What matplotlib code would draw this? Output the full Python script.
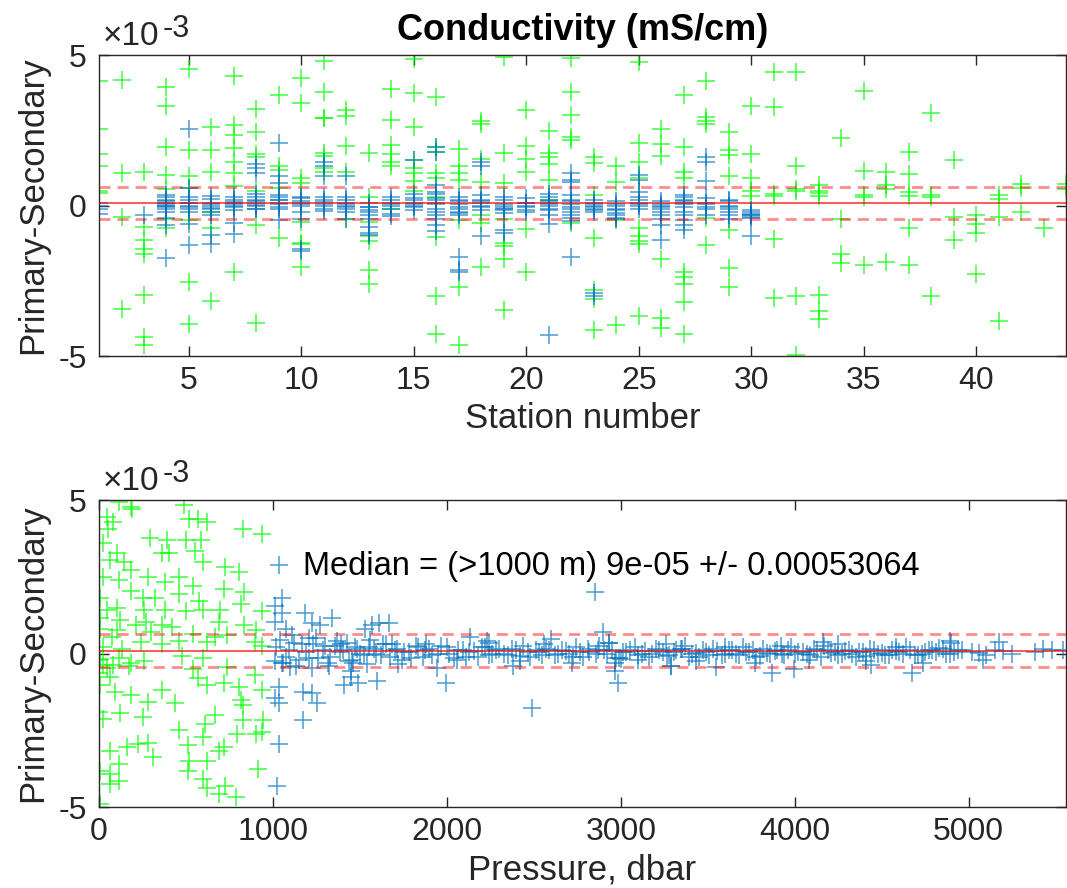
import matplotlib
matplotlib.use("Agg")
import matplotlib.pyplot as plt

plt.rcParams["font.family"] = ["Liberation Sans", "DejaVu Sans"]
plt.rcParams["axes.unicode_minus"] = False

# all differences are in units of 1e-3 mS/cm
median = 0.09
spread = 0.53064

# --- top panel: station number ---
top_green_station = (
	[1]*6 + [2]*4 + [3]*8 + [4]*7 + [5]*7 + [6]*6 + [7]*8 + [8]*7 + [9]*5 + [10]*8
	+ [11]*8 + [12]*5 + [13]*7 + [14]*7 + [15]*8 + [16]*9 + [17]*7 + [18]*7 + [19]*8 + [20]*6
	+ [21]*6 + [22]*6 + [23]*7 + [24]*4 + [25]*9 + [26]*6 + [27]*9 + [28]*6 + [29]*7 + [30]*5
	+ [31]*6 + [32]*6 + [33]*7 + [34]*4 + [35]*5 + [36]*4 + [37]*6 + [38]*4 + [39]*3 + [40]*4
	+ [41]*4 + [42]*3 + [43]*1 + [44]*2
)
top_green_diff = [
	4.13, 2.53, 1.71, 1.3, 0.5, 0.43,
	4.18, 1.08, -0.38, -3.42,
	1.13, -0.7, -1.13, -1.45, -1.6, -2.96, -4.35, -4.62,
	3.93, 3.3, 1.96, 1.0, 0.54, -0.43, -0.75,
	4.53, 1.85, 0.99, 0.6, -0.48, -2.53, -3.92,
	2.6, 1.85, 1.1, -0.2, -0.75, -3.17,
	4.29, 2.67, 2.34, 1.9, 1.44, 1.08, 0.64, -2.2,
	3.22, 2.43, 1.71, 1.63, 0.5, -0.65, -3.89,
	3.67, 1.3, 1.17, 0.6, -1.08,
	4.24, 3.41, 0.91, 0.75, -0.54, -1.24, -1.28, -2.04,
	4.81, 3.77, 2.92, 2.9, 1.74, 1.65, 1.24, 1.13,
	3.16, 2.97, 1.98, 1.13, -0.43,
	1.76, 0.3, -0.54, -1.02, -1.18, -2.15, -2.6,
	3.88, 2.84, 2.0, 1.71, 1.46, 1.3, -0.1,
	4.87, 3.75, 2.62, 1.52, 1.24, 1.08, 0.81, 0.5,
	3.6, 1.96, 1.79, 1.08, 0.91, 0.3, -1.05, -3.02, -4.25,
	1.87, 1.3, 1.08, 0.86, -0.48, -2.69, -4.62,
	2.81, 2.7, 1.54, 0.77, -0.32, -0.59, -2.04,
	4.95, 1.76, 0.75, -0.43, -1.24, -1.35, -1.77, -3.46,
	3.16, 1.98, 1.54, 1.1, -0.77, -2.2,
	2.47, 1.74, 1.63, 1.38, 0.86, 0.2,
	4.9, 3.77, 3.0, 2.29, 2.18, -0.59,
	1.63, 1.41, 0.35, -1.08, -2.82, -3.12, -4.14,
	1.3, 0.77, -0.48, -3.98,
	4.76, 2.07, 1.46, 0.91, -0.75, -1.02, -1.18, -1.29, -3.66,
	2.56, 2.04, 1.65, -1.77, -3.74, -4.06,
	3.68, 1.96, 1.1, 0.91, -2.2, -2.36, -2.6, -3.2, -4.28,
	4.15, 2.95, 2.81, 2.7, -0.41, -1.31,
	2.45, 1.85, 1.68, 0.99, -0.8, -2.06, -2.71,
	3.32, 1.71, 0.91, 0.47, 0.32,
	4.45, 3.26, 0.4, 0.32, -1.1, -3.06,
	4.43, 1.3, 0.55, 0.48, -2.99, -4.95,
	0.69, 0.42, 0.5, 0.32, -2.96, -3.49, -3.76,
	2.23, -0.43, -1.61, -1.91,
	3.8, 1.16, 0.36, 0.27, -1.99,
	1.13, 0.69, 0.55, -1.88,
	1.77, 1.05, 0.44, 0.32, -0.75, -1.96,
	3.08, 0.36, 0.27, -3.02,
	1.52, -0.38, -1.16,
	-0.32, -0.62, -0.91, -2.28,
	0.36, 0.22, -0.38, -3.82,
	0.72, 0.59, -0.22,
	-0.73,
	0.72, 0.55,
]

top_blue_station = (
	[1]*4 + [3]*1 + [4]*10 + [5]*8 + [6]*7 + [7]*6 + [8]*8 + [9]*8 + [10]*6
	+ [11]*6 + [12]*6 + [13]*6 + [14]*4 + [15]*5 + [16]*11 + [17]*8 + [18]*6 + [19]*6 + [20]*3
	+ [21]*8 + [22]*10 + [23]*6 + [24]*5 + [25]*5 + [26]*6 + [27]*8 + [28]*5 + [29]*4 + [30]*4
)
top_blue_diff = [
	0.1, 0.0, -0.1, -0.27,
	-0.3,
	0.3, 0.2, 0.1, 0.05, 0.0, -0.05, -0.1, -0.4, -0.65, -1.74,
	2.56, 0.6, 0.2, 0.1, 0.0, -0.1, -0.6, -1.31,
	0.32, 0.1, 0.0, -0.1, -0.2, -0.97, -1.29,
	0.2, 0.1, 0.05, -0.05, -0.59, -0.95,
	1.38, 1.24, 1.08, 0.3, 0.2, 0.1, 0.0, -0.1,
	2.09, 0.97, 0.75, 0.3, 0.2, 0.1, -0.1, -0.48,
	0.3, 0.15, 0.05, -0.43, -1.45, -1.5,
	1.46, 1.3, 0.97, 0.2, 0.05, -0.19,
	0.97, 0.3, 0.1, 0.0, -0.05, -0.43,
	-0.05, -0.2, -0.43, -0.7, -0.92, -0.97,
	0.2, 0.1, 0.0, -0.27,
	1.5, 0.4, 0.2, 0.05, 0.0,
	1.96, 1.79, 0.69, 0.4, 0.2, 0.1, -0.1, -0.3, -0.43, -0.65, -0.86,
	0.3, 0.15, -0.05, -0.2, -0.32, -1.7, -2.15, -2.2,
	1.46, 1.3, 0.2, 0.1, -0.05, -1.02,
	0.3, 0.0, -0.1, -0.15, -0.8, -0.92,
	0.1, 0.0, -0.15,
	0.3, 0.15, 0.1, 0.0, -0.1, -0.3, -0.62, -4.3,
	1.08, 0.86, 0.77, 0.2, 0.05, -0.05, -0.2, -0.3, -0.5, -1.7,
	0.1, 0.0, -0.1, -0.2, -2.9, -3.0,
	0.05, -0.1, -0.25, -0.3, -0.43,
	1.02, 0.86, 0.27, 0.1, 0.0,
	0.05, -0.05, -0.2, -0.43, -0.65, -1.13,
	0.27, 0.15, 0.05, -0.05, -0.3, -0.48, -0.65, -0.8,
	1.63, 1.46, 0.8, 0.1, -0.05,
	0.2, -0.05, -0.1, -0.32,
	-0.27, -0.32, -0.38, -1.02,
]

# deep bottles that pile up close to zero, four per station (4..30)
top_core_station = [s for s in range(4, 31) for _ in range(4)]
top_core_diff = [
	0.35, 0.15, -0.03, -0.2,
	0.3, 0.08, -0.05, -0.22,
	0.22, 0.05, -0.08, -0.3,
	0.28, 0.12, 0.0, -0.15,
	0.4, 0.15, 0.02, -0.12,
	0.35, 0.18, 0.06, -0.05,
	0.25, 0.1, -0.02, -0.2,
	0.3, 0.12, 0.0, -0.1,
	0.2, 0.05, -0.1, -0.2,
	0.1, -0.05, -0.15, -0.3,
	0.3, 0.05, -0.1, -0.35,
	0.25, 0.1, -0.05, -0.15,
	0.45, 0.25, 0.05, -0.2,
	0.2, 0.05, -0.1, -0.25,
	0.35, 0.15, 0.0, -0.15,
	0.2, 0.05, -0.08, -0.25,
	0.25, 0.08, -0.05, -0.2,
	0.4, 0.2, 0.05, -0.15,
	0.35, 0.15, -0.1, -0.4,
	0.2, 0.05, -0.05, -0.15,
	0.15, 0.0, -0.15, -0.4,
	0.45, 0.2, 0.05, -0.1,
	0.15, 0.0, -0.1, -0.3,
	0.35, 0.2, 0.1, -0.2,
	0.25, 0.05, -0.1, -0.3,
	0.15, 0.0, -0.2, -0.45,
	-0.15, -0.22, -0.3, -0.42,
]

# --- bottom panel: pressure ---
bot_green_pres = [
	0, 113, 182, 190, 44, 83, 53, 24, 489, 519, 568, 618, 826, 935, 291, 390, 499, 588,
	103, 143, 360, 400, 550, 63, 182, 24, 113, 598, 727, 806, 281, 459, 717, 539, 380,
	4, 182, 251, 321, 459, 576, 836, 816, 44, 103, 261, 380, 499, 598, 697, 935,
	4, 123, 271, 212, 360, 420, 687, 836, 905, 4, 103, 301, 539, 667, 737, 73,
	24, 133, 241, 360, 459, 618, 895, 935, 4, 44, 113, 172, 261, 479, 598, 737, 539, 895,
	0, 24, 83, 182, 0, 63, 4, 93, 182, 281, 360, 439, 0, 24, 123, 251,
	568, 618, 717, 806, 816, 826, 935, 667, 608, 459, 598, 796, 826, 935, 905, 944,
	63, 162, 222, 281, 311, 509, 519, 618, 687, 717, 4, 63, 113, 113, 63,
	509, 598, 618, 727, 687, 786, 915, 4,
]
bot_green_diff = [
	5.0, 4.94, 4.78, 4.7, 4.44, 4.27, 4.05, 3.6, 4.83, 4.39, 4.39, 4.27, 4.07, 3.88, 3.77, 3.69, 3.69, 3.69,
	3.27, 2.99, 3.27, 3.27, 3.33, 3.05, 2.71, 2.49, 2.38, 2.99, 2.82, 2.66, 2.49, 2.49, 2.1, 2.21, 2.32,
	1.82, 2.04, 1.82, 1.82, 1.93, 1.71, 1.99, 1.6, 1.43, 1.48, 1.43, 1.43, 1.37, 1.43, 1.43, 1.37,
	1.15, 1.09, 1.04, 0.93, 0.93, 0.87, 1.04, 0.93, 0.76, 0.81, 0.76, 0.7, 0.65, 0.54, 0.59, 0.54,
	0.2, 0.15, 0.37, 0.31, 0.42, 0.37, 0.37, 0.26, -0.19, -0.47, -0.13, -0.41, -0.25, -0.08, -0.13, -0.44, -0.52, -0.69,
	-0.2, -0.36, -0.36, -0.31, -0.64, -0.75, -1.02, -1.24, -1.35, -1.57, -1.19, -1.62, -1.9, -2.12, -1.95, -2.06,
	-0.8, -1.02, -0.97, -1.08, -1.51, -1.68, -1.19, -2.01, -2.28, -2.5, -2.72, -2.61, -2.17, -2.56, -2.61, -2.17,
	-3.16, -3.05, -2.94, -2.92, -3.38, -2.99, -3.49, -3.49, -3.16, -3.05, -3.84, -3.93, -3.6, -4.15, -4.26,
	-3.82, -4.09, -4.37, -4.31, -4.58, -4.67, -3.76, -4.91,
]

bot_blue_pres = [
	1034, 1053, 1014, 1053, 1182, 1222, 1271, 1341, 1014, 1073, 1529, 1568, 1608, 1667, 2133, 2232, 1687,
	1014, 1053, 1033, 1014, 1033, 1172, 1222, 1251, 1172, 1033, 1024, 1410, 1450, 1489, 1598, 1994, 2489,
	1222, 1450, 2380, 1945, 2850, 2899, 2876, 2968, 2968, 3000, 3291, 3550, 3867, 3994, 4675, 4893,
	5176, 4161, 2600, 3354, 4438, 2985, 3291,
	1020, 1060, 1090, 1120, 1150, 1190, 1230, 1260, 1300, 1330, 1370, 1400, 1440, 1470, 1500, 1540,
	1580, 1620, 1650, 1700, 1740, 1780, 1820, 1860, 1900, 1950, 2000, 2040, 2090, 2130, 2180, 2220,
	2260, 2300, 2350, 2400, 2440, 2480, 2530, 2570, 2620, 2660, 2700, 2740, 2780, 2820, 2870, 2920,
	2950, 2990, 3030, 3080, 3120, 3160, 3200, 3240, 3280, 3320, 3370, 3410, 3450, 3490, 3530, 3580,
	3620, 3660, 3700, 3740, 3780, 3820, 3860, 3900, 3940, 3980, 4020, 4070, 4110, 4150, 4190, 4230,
	4270, 4310, 4350, 4390, 4430, 4480, 4520, 4560, 4600, 4640, 4690, 4730, 4770, 4810, 4850, 4890,
	4940, 5020, 5100, 5150, 5250, 5430, 5540,
	1100, 1210, 1320, 1390, 1460, 1560, 1720, 1880, 2060, 2240, 2420, 2560, 2720, 2930, 3100, 3260,
	3430, 3600, 3770, 3920, 4080, 4250, 4410, 4580, 4740, 4900, 5080,
	1040, 1075, 1110, 1135, 1165, 1205, 1245, 1285, 1315, 1355,
	1385, 1425, 1455, 1485, 1525, 1555, 1590, 1635, 1675, 1715,
	1755, 1795, 1835, 1875, 1915, 1965, 2015, 2065, 2110, 2155,
	2200, 2245, 2285, 2330, 2375, 2420, 2465, 2510, 2545, 2590,
	2640, 2685, 2725, 2765, 2810, 2855, 2905, 2935, 2975, 3010,
	3055, 3100, 3140, 3180, 3220, 3265, 3305, 3345, 3390, 3430,
	3470, 3510, 3555, 3600, 3640, 3680, 3720, 3760, 3800, 3840,
	3885, 3925, 3960, 4000, 4045, 4090, 4130, 4170, 4210, 4250,
	4290, 4330, 4370, 4410, 4455, 4500, 4540, 4580, 4620, 4660,
	4710, 4750, 4790, 4830, 4870, 4915, 4960, 5060, 5200, 5380,
	5480,
]
bot_blue_diff = [
	2.88, 1.82, 1.54, 1.32, 1.32, 0.98, 0.93, 1.15, 1.04, 0.81, 0.81, 0.93, 0.98, 0.98, 0.54, 0.42, 0.31,
	-0.25, -0.31, -1.08, -1.46, -1.62, -1.24, -1.29, -1.62, -2.17, -2.94, -4.31, -1.02, -0.75, -0.97, -0.91, -0.97, -1.79,
	-0.47, -0.58, -0.42, -0.47, 2.02, 0.7, 0.26, -0.3, -0.58, -0.19, -0.41, -0.44, -0.64, -0.52, -0.64, 0.42,
	0.37, 0.37, 0.48, 0.15, -0.36, -0.95, -0.4,
	0.2, -0.3, 0.1, 0.35, -0.2, 0.05, 0.3, -0.15, 0.25, -0.1, 0.4, 0.1, -0.25, 0.2, 0.0, -0.35,
	0.15, -0.05, 0.3, 0.1, -0.2, 0.05, 0.25, -0.1, 0.15, 0.0, 0.2, -0.15, 0.1, 0.05, -0.1, 0.2,
	0.0, 0.15, -0.05, 0.1, 0.25, -0.1, 0.05, 0.15, -0.05, 0.1, 0.0, 0.2, -0.1, 0.05, 0.1, 0.0,
	0.1, -0.15, 0.05, 0.2, 0.0, -0.1, 0.15, 0.05, -0.05, 0.1, 0.25, 0.0, -0.1, 0.05, 0.15, -0.05,
	0.1, 0.0, 0.2, 0.05, -0.1, 0.15, 0.0, 0.1, -0.05, 0.2, 0.05, 0.0, 0.15, -0.1, 0.1, 0.05,
	0.0, 0.1, -0.1, 0.05, 0.15, 0.0, -0.05, 0.1, 0.05, 0.2, -0.05, 0.0, 0.1, 0.05, 0.15, 0.0,
	0.1, 0.05, -0.05, 0.1, 0.0, 0.15, 0.1,
	-0.45, 0.5, -0.4, 0.3, -0.3, 0.45, -0.35, 0.3, -0.2, 0.35, -0.25, 0.3, -0.3, 0.35, -0.2, 0.3,
	-0.25, 0.2, -0.3, 0.25, -0.2, 0.3, -0.25, 0.2, -0.3, 0.35, -0.2,
	0.45, -0.1, 0.6, -0.4, 0.3, -0.15, 0.5, 0.1, -0.3, 0.25,
	0.05, 0.35, -0.2, 0.15, -0.05, 0.2, 0.0, 0.3, -0.1, 0.15,
	0.05, -0.15, 0.2, 0.1, -0.05, 0.25, 0.0, 0.12, -0.1, 0.08,
	0.2, -0.05, 0.1, 0.0, 0.15, -0.08, 0.05, 0.12, -0.05, 0.1,
	0.0, 0.08, -0.1, 0.05, 0.15, -0.02, 0.1, 0.35, -0.15, 0.05,
	0.12, -0.05, 0.08, 0.0, 0.1, -0.08, 0.05, 0.15, -0.1, 0.02,
	0.1, -0.05, 0.08, 0.0, 0.12, -0.05, 0.05, 0.1, -0.08, 0.02,
	0.08, -0.03, 0.1, 0.0, 0.06, -0.05, 0.1, 0.25, 0.02, -0.06,
	0.08, 0.0, 0.05, -0.08, 0.1, 0.02, -0.04, 0.08, 0.0, 0.12,
	-0.05, 0.06, 0.1, 0.18, -0.02, 0.05, 0.1, 0.02, 0.08, 0.05,
	0.1,
]

green = "#00ff00"
blue = "#0072bd"
axcol = "#262626"

fig = plt.figure(figsize=(10.67, 8.88), dpi=100)
ax1 = fig.add_axes([0.0928, 0.599, 0.9063, 0.339])
ax2 = fig.add_axes([0.0928, 0.0912, 0.9063, 0.3457])

def style(ax, xlim, xticks, xlabel):
	ax.set_xlim(*xlim)
	ax.set_ylim(-5, 5)
	ax.set_xticks(xticks)
	ax.set_yticks([-5, 0, 5])
	ax.tick_params(direction="in", length=7, width=1, labelsize=23, colors=axcol,
		top=True, right=True)
	ax.tick_params(axis="x", pad=7)
	ax.tick_params(axis="y", pad=9)
	for s in ax.spines.values():
		s.set_color(axcol)
		s.set_linewidth(1)
	ax.set_xlabel(xlabel, fontsize=25, color=axcol)
	ax.set_ylabel("Primary-Secondary", fontsize=25, color=axcol)
	ax.xaxis.set_label_coords(0.5, -46 / (ax.get_position().height * 888))
	ax.yaxis.set_label_coords(-50 / 967, 0.5)
	# MATLAB style exponent label above the axes
	ax.annotate("\u00d710", xy=(0, 1), xycoords="axes fraction", xytext=(3, 7),
		textcoords="offset points", fontsize=24, color=axcol, ha="left", va="baseline")
	ax.annotate("-3", xy=(0, 1), xycoords="axes fraction", xytext=(46, 13),
		textcoords="offset points", fontsize=22, color=axcol, ha="left", va="baseline")
	ax.axhline(median, color="red", lw=1.3, alpha=0.7, zorder=3)
	for yv in (median + spread, median - spread):
		ax.axhline(yv, color="red", lw=2, alpha=0.45, ls=(0, (4, 2.5)), zorder=3)

mk = dict(ls="none", marker="+", markersize=13, markeredgewidth=1.1)
ax1.plot(top_green_station, top_green_diff, color=green, alpha=0.75, **mk)
ax1.plot(top_blue_station, top_blue_diff, color=blue, alpha=0.7, **mk)
ax1.plot(top_core_station, top_core_diff, color=blue, alpha=0.7, **mk)
style(ax1, (1, 44), [5, 10, 15, 20, 25, 30, 35, 40], "Station number")
ax1.set_title("Conductivity (mS/cm)", fontsize=26, fontweight="bold", pad=11)

ax2.plot(bot_green_pres, bot_green_diff, color=green, alpha=0.75, **mk)
ax2.plot(bot_blue_pres, bot_blue_diff, color=blue, alpha=0.7, **mk)
style(ax2, (0, 5560), [0, 1000, 2000, 3000, 4000, 5000], "Pressure, dbar")
ax2.text(1175, 2.57, "Median = (>1000 m) 9e-05 +/- 0.00053064", fontsize=23.5,
	ha="left", va="baseline", color="black")

fig.savefig("out.png", dpi=100)
